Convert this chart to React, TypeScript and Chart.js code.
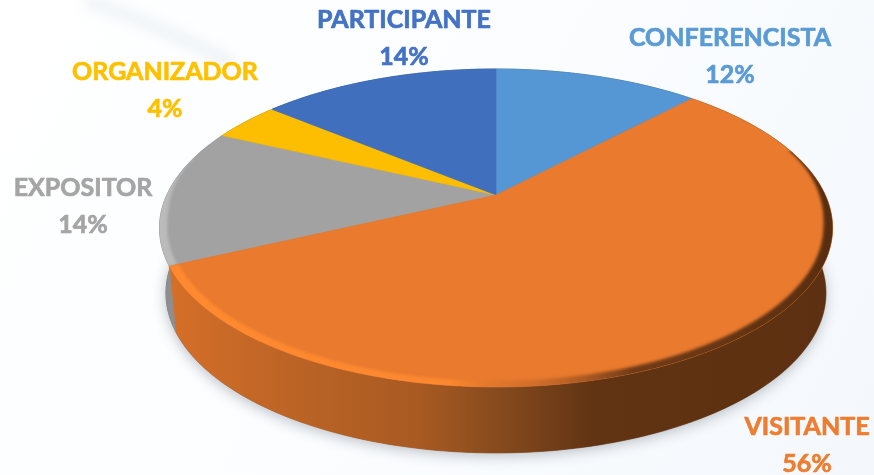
import React, { useEffect, useRef } from "react";
import { Chart, registerables } from "chart.js";

Chart.register(...registerables);

const categories = ["CONFERENCISTA", "VISITANTE", "EXPOSITOR", "ORGANIZADOR", "PARTICIPANTE"];
const shares = [12, 56, 14, 4, 14];
const sliceColors = ["#5596D4", "#E97A2E", "#A2A2A2", "#FDBE02", "#3F6FBD"];
const labelColors = ["#5B9BD5", "#ED7D31", "#A5A5A5", "#FFC000", "#4472C4"];
const labelCenters = [[730, 38], [807, 427], [83, 188], [165, 72], [404, 20]];

const WIDTH = 874;
const HEIGHT = 475;

// Perspective of the pie's top face (a homography of the unit disk)
const APEX_X = 496, H_A = 329.2, H_C = -0.2075, H_B = 111.7, APEX_Y = 195;
const TOP = { cx: 495.5, cy: 228, rx: 336.5, ry: 159 };
const BOTTOM = { cx: 495.5, cy: 293, rx: 330, ry: 160 };

const topPoint = (a: number, r = 1) => {
  const u = Math.cos(a) * r, v = Math.sin(a) * r;
  const d = 1 + H_C * v;
  return [APEX_X + (H_A * u) / d, (H_B * v + APEX_Y) / d];
};
const bottomPoint = (a: number) => {
  const [x, y] = topPoint(a);
  return [
    BOTTOM.cx + ((x - TOP.cx) / TOP.rx) * BOTTOM.rx,
    BOTTOM.cy + ((y - TOP.cy) / TOP.ry) * BOTTOM.ry,
  ];
};
const samples = (s: number, e: number) => {
  const n = Math.max(2, Math.ceil((e - s) * 60));
  return Array.from({ length: n + 1 }, (_, i) => s + ((e - s) * i) / n);
};
const smooth = (lo: number, hi: number, t: number) => {
  const k = Math.min(1, Math.max(0, (t - lo) / (hi - lo)));
  return k * k * (3 - 2 * k);
};

function sliceFace(ctx: CanvasRenderingContext2D, s: number, e: number) {
  ctx.beginPath();
  ctx.moveTo(APEX_X, APEX_Y);
  for (const a of samples(s, e)) {
    const [x, y] = topPoint(a);
    ctx.lineTo(x, y);
  }
  ctx.closePath();
}

function sliceRim(ctx: CanvasRenderingContext2D, s: number, e: number) {
  const as = samples(s, e);
  ctx.beginPath();
  as.forEach((a, i) => {
    const [x, y] = topPoint(a);
    i ? ctx.lineTo(x, y) : ctx.moveTo(x, y);
  });
  for (const a of [...as].reverse()) {
    const [x, y] = bottomPoint(a);
    ctx.lineTo(x, y);
  }
  ctx.closePath();
}

// band just inside the outer edge, its width given per angle
function bevelBand(ctx: CanvasRenderingContext2D, s: number, e: number, width: (a: number) => number) {
  const as = samples(s, e);
  ctx.beginPath();
  as.forEach((a, i) => {
    const [x, y] = topPoint(a, 1.02);
    i ? ctx.lineTo(x, y) : ctx.moveTo(x, y);
  });
  for (const a of [...as].reverse()) {
    const [x, y] = topPoint(a, 1 - width(a));
    ctx.lineTo(x, y);
  }
  ctx.closePath();
}

const piePlugin = {
  id: "perspectivePie",
  beforeDraw(chart: any) {
    const ctx: CanvasRenderingContext2D = chart.ctx;
    const bg = ctx.createLinearGradient(0, 0, WIDTH, HEIGHT);
    bg.addColorStop(0, "#FFFFFF");
    bg.addColorStop(0.5, "#FBFDFF");
    bg.addColorStop(1, "#F4F8FC");
    ctx.fillStyle = bg;
    ctx.fillRect(0, 0, WIDTH, HEIGHT);
    // faint swoosh of the backdrop
    ctx.save();
    ctx.filter = "blur(6px)";
    ctx.strokeStyle = "rgba(225,232,240,0.45)";
    ctx.lineWidth = 14;
    ctx.beginPath();
    ctx.moveTo(85, 0);
    ctx.quadraticCurveTo(160, 25, 235, 65);
    ctx.stroke();
    ctx.restore();
  },
  beforeDatasetsDraw(chart: any) {
    const ctx: CanvasRenderingContext2D = chart.ctx;
    const arcs = chart.getDatasetMeta(0).data;
    const colors = chart.data.datasets[0].backgroundColor;

    // cast shadow under the disc
    ctx.save();
    ctx.shadowColor = "rgba(60,70,85,0.34)";
    ctx.shadowBlur = 14;
    ctx.shadowOffsetY = 3;
    ctx.fillStyle = "#777";
    ctx.beginPath();
    ctx.ellipse(BOTTOM.cx, BOTTOM.cy, BOTTOM.rx, BOTTOM.ry, 0, 0, Math.PI * 2);
    ctx.fill();
    ctx.restore();

    // rim
    const rimOrange = ctx.createLinearGradient(170, 0, 830, 0);
    rimOrange.addColorStop(0, "#D56F28");
    rimOrange.addColorStop(0.18, "#BC6426");
    rimOrange.addColorStop(0.38, "#A85A22");
    rimOrange.addColorStop(0.5, "#864A1E");
    rimOrange.addColorStop(0.64, "#613413");
    rimOrange.addColorStop(1, "#5C3010");
    const rimFill = ["#35506B", rimOrange, "#8E8E8E", "#8A6A02", "#2A4A80"];
    arcs.forEach((arc: any, i: number) => {
      sliceRim(ctx, arc.startAngle, arc.endAngle);
      ctx.fillStyle = rimFill[i];
      ctx.strokeStyle = rimFill[i];
      ctx.lineWidth = 0.6;
      ctx.fill();
      ctx.stroke();
    });

    // top faces, the large slice last
    const order = [0, 2, 3, 4, 1];
    for (const i of order) {
      const arc = arcs[i];
      sliceFace(ctx, arc.startAngle, arc.endAngle);
      ctx.fillStyle = colors[i];
      ctx.strokeStyle = colors[i];
      ctx.lineWidth = 0.6;
      ctx.fill();
      ctx.stroke();
    }

    // bevel along the edge of the top face
    const big = arcs[1];
    ctx.save();
    sliceFace(ctx, big.startAngle, big.endAngle);
    ctx.clip();
    const bevel = ctx.createLinearGradient(170, 0, 830, 0);
    bevel.addColorStop(0, "rgba(255,138,48,0.95)");
    bevel.addColorStop(0.42, "rgba(255,138,48,0.85)");
    bevel.addColorStop(0.55, "rgba(190,100,40,0.5)");
    bevel.addColorStop(0.7, "rgba(100,52,20,0.9)");
    bevel.addColorStop(1, "rgba(88,46,16,1)");
    ctx.filter = "blur(1.8px)";
    ctx.fillStyle = bevel;
    const s = big.startAngle + 0.5;
    bevelBand(ctx, s, big.endAngle, (a) => 0.004 + 0.022 * smooth(-0.35, 0.25, a));
    ctx.fill();
    ctx.restore();

    const gray = arcs[2];
    ctx.save();
    sliceFace(ctx, gray.startAngle, gray.endAngle);
    ctx.clip();
    ctx.filter = "blur(1.4px)";
    ctx.fillStyle = "rgba(190,190,190,0.9)";
    const g0 = gray.startAngle;
    bevelBand(ctx, g0, g0 + 0.7, (a) => 0.022 * (1 - smooth(g0 + 0.25, g0 + 0.7, a)));
    ctx.fill();
    ctx.restore();

    // data labels
    ctx.save();
    ctx.textAlign = "center";
    ctx.textBaseline = "middle";
    ctx.font = "bold 25px Lato";
    ctx.lineJoin = "round";
    ctx.lineWidth = 0.7;
    chart.data.labels.forEach((label: string, i: number) => {
      const [x, y] = labelCenters[i];
      ctx.fillStyle = labelColors[i];
      ctx.strokeStyle = labelColors[i];
      ctx.fillText(label, x, y);
      ctx.strokeText(label, x, y);
      ctx.fillText(`${shares[i]}%`, x, y + 36.5);
      ctx.strokeText(`${shares[i]}%`, x, y + 36.5);
    });
    ctx.restore();
    return false;
  },
};

export default function App() {
  const ref = useRef<HTMLCanvasElement>(null);
  useEffect(() => {
    const chart = new Chart(ref.current!, {
      type: "pie",
      data: {
        labels: categories,
        datasets: [{ data: shares, backgroundColor: sliceColors, borderWidth: 0 }],
      },
      options: {
        animation: false,
        responsive: false,
        plugins: { legend: { display: false }, tooltip: { enabled: false } },
      },
      plugins: [piePlugin],
    } as any);
    return () => chart.destroy();
  }, []);
  return (
    <div style={{ position: "fixed", left: 0, top: 0, width: WIDTH, height: HEIGHT }}>
      <canvas ref={ref} width={WIDTH} height={HEIGHT} style={{ display: "block" }} />
    </div>
  );
}
